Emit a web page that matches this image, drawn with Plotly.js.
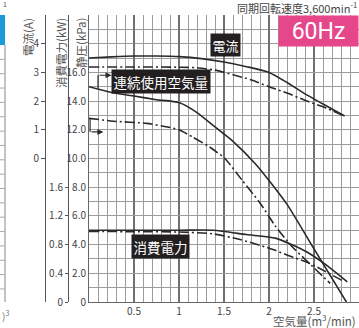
<!DOCTYPE html>
<html>
<head>
<meta charset="utf-8">
<script src="https://cdn.plot.ly/plotly-3.0.1.min.js"></script>
<style>
html,body{margin:0;padding:0;background:#fff;}
#chart{width:359px;height:328px;}
</style>
</head>
<body>
<div id="chart"></div>
<script>
// ---- data ----
// air volume (m3/min) vs current (A)
const currentSolidX = [0, 0.25, 0.5, 0.75, 1.0, 1.25, 1.5, 1.75, 2.0, 2.2, 2.4, 2.6, 2.84];
const currentSolidY = [3.5, 3.54, 3.57, 3.57, 3.55, 3.48, 3.36, 3.2, 3.0, 2.65, 2.25, 1.9, 1.48];
const currentDashX = [0, 0.5, 1.0, 1.2, 1.4, 1.6, 1.8, 2.0, 2.2, 2.4, 2.6, 2.84];
const currentDashY = [3.19, 3.19, 3.18, 3.16, 3.08, 2.92, 2.74, 2.5, 2.28, 2.03, 1.8, 1.48];
// air volume vs static pressure (kPa)
const pressSolidX = [0, 0.25, 0.5, 0.75, 1.0, 1.2, 1.4, 1.6, 1.86, 2.2, 2.5, 2.86];
const pressSolidY = [15.0, 14.6, 14.35, 14.1, 13.9, 13.2, 12.2, 11.2, 9.55, 6.8, 3.7, 0];
const pressDashX = [0, 0.27, 0.64, 0.87, 1.0, 1.15, 1.34, 1.51, 1.7, 1.9, 2.07, 2.25, 2.43, 2.68];
const pressDashY = [12.8, 12.6, 12.45, 12.2, 12.0, 11.5, 10.8, 10.0, 8.5, 6.9, 5.3, 3.9, 2.8, 1.3];
// air volume vs power consumption (kW)
const powerSolidX = [0, 0.5, 1.0, 1.38, 1.75, 2.07, 2.25, 2.43, 2.62, 2.87];
const powerSolidY = [1.0, 1.0, 1.0, 1.0, 0.94, 0.89, 0.8, 0.69, 0.53, 0.28];
const powerDashX = [0, 0.5, 1.0, 1.38, 1.68, 1.9, 2.07, 2.23, 2.43, 2.62, 2.84];
const powerDashY = [0.985, 0.98, 0.975, 0.95, 0.87, 0.79, 0.72, 0.64, 0.55, 0.43, 0.28];

// tick labels
const xTickVals = [0.5, 1, 1.5, 2, 2.5, 3];
const xTickText = ['0.5', '1', '1.5', '2', '2.5', '3'];
const kpaTickVals = [0, 2, 4, 6, 8, 10, 12, 14, 16];
const kpaTickText = ['0', '2.0', '4.0', '6.0', '8.0', '10.0', '12.0', '14.0', '16.0'];
const ampTickVals = [0, 1, 2, 3, 4];
const ampTickText = ['0', '1', '2', '3', '4'];
const kwTickVals = [0, 0.4, 0.8, 1.2, 1.6];
const kwTickText = ['0', '0.4', '0.8', '1.2', '1.6'];

// ---- layout helpers ----
const W = 359, H = 328, T = 15, B = 26;
const PH = H - T - B;
const px = v => v / W;                    // pixel x -> paper
const py = v => (H - B - v) / PH;         // pixel y -> paper

const lineColor = '#2a2a2a';
const dashPat = '10px,3px,2px,3px';
const FONT = '"Noto Sans CJK JP", "Noto Sans", sans-serif';

function tr(x, y, yaxis, dash, name) {
  return {x: x, y: y, yaxis: yaxis, type: 'scatter', mode: 'lines', name: name,
    line: {color: lineColor, width: 1.6, dash: dash, shape: 'spline', smoothing: 0.6},
    hoverinfo: 'skip', showlegend: false};
}

const data = [
  tr(pressSolidX, pressSolidY, 'y', 'solid', '静圧'),
  tr(pressDashX, pressDashY, 'y', dashPat, '静圧(鎖線)'),
  tr(currentSolidX, currentSolidY, 'y2', 'solid', '電流'),
  tr(currentDashX, currentDashY, 'y2', dashPat, '電流(鎖線)'),
  tr(powerSolidX, powerSolidY, 'y3', 'solid', '消費電力'),
  tr(powerDashX, powerDashY, 'y3', dashPat, '消費電力(鎖線)')
];

const tickFont = {family: FONT, size: 10, color: '#444'};

// left-edge remains of the neighbouring chart
const shapes = [
  {type: 'rect', xref: 'paper', yref: 'paper', x0: 0, x1: px(5), y0: py(45), y1: py(15),
   fillcolor: '#1a9ad9', line: {width: 0}},
  {type: 'line', xref: 'paper', yref: 'paper', x0: px(5), x1: px(5), y0: py(302), y1: py(45),
   line: {color: '#888', width: 1}}
];
for (let k = 1; k < 18; k++) {
  const yy = 45 + k * 14.35;
  if (yy > 302) break;
  shapes.push({type: 'line', xref: 'paper', yref: 'paper', x0: 0, x1: px(5), y0: py(yy), y1: py(yy),
    line: {color: '#aaa', width: 1}});
}
// bracket lines of the arrows
shapes.push({type: 'line', xref: 'x', yref: 'y', x0: 0.1, x1: 0.1, y0: 14.9, y1: 15.8,
  line: {color: lineColor, width: 1.2}});
shapes.push({type: 'line', xref: 'x', yref: 'y', x0: 0.012, x1: 0.012, y0: 12.8, y1: 11.85,
  line: {color: lineColor, width: 1.2}});

const boxLabel = (text, x, y, size) => ({
  text: text, x: x, y: y, xref: 'x', yref: 'y', showarrow: false,
  font: {family: FONT, size: size, color: '#fff'}, bgcolor: '#231f20', borderpad: 1.5
});
const vTitle = (text, xpix) => ({
  text: text, xref: 'paper', yref: 'paper', x: px(xpix), y: py(16), xanchor: 'center', yanchor: 'top',
  textangle: -90, showarrow: false, font: {family: FONT, size: 11.5, color: '#555'}
});

const annotations = [
  boxLabel('電流', 1.52, 17.9, 13),
  boxLabel('連続使用空気量', 0.8, 15.4, 13.5),
  boxLabel('消費電力', 0.79, 3.9, 13.5),
  {text: '', x: 0.25, y: 15.8, ax: 0.1, ay: 15.8, xref: 'x', yref: 'y', axref: 'x', ayref: 'y',
   showarrow: true, arrowhead: 2, arrowsize: 1, arrowwidth: 1.2, arrowcolor: lineColor},
  {text: '', x: 0.16, y: 11.85, ax: 0.012, ay: 11.85, xref: 'x', yref: 'y', axref: 'x', ayref: 'y',
   showarrow: true, arrowhead: 2, arrowsize: 1, arrowwidth: 1.2, arrowcolor: lineColor},
  vTitle('電流(A)', 28),
  vTitle('消費電力(kW)', 61),
  vTitle('静圧(kPa)', 81),
  {text: '同期回転速度3,600min<sup>-1</sup>', xref: 'paper', yref: 'paper', x: 1, y: py(8),
   xanchor: 'right', yanchor: 'middle', showarrow: false, font: {family: FONT, size: 11, color: '#444'}},
  {text: '60Hz', xref: 'paper', yref: 'paper', x: 1, y: 1, xanchor: 'right', yanchor: 'top',
   width: 79, height: 30, bgcolor: '#e6478a', borderpad: 0, showarrow: false,
   font: {family: 'Roboto, "Noto Sans", sans-serif', size: 23, color: '#fff'}},
  {text: '空気量(m<sup>3</sup>/min)', xref: 'paper', yref: 'paper', x: px(358), y: py(321),
   xanchor: 'right', yanchor: 'middle', showarrow: false, font: {family: FONT, size: 11.5, color: '#555'}},
  {text: '1', xref: 'paper', yref: 'paper', x: px(1), y: py(4), xanchor: 'left', yanchor: 'middle',
   showarrow: false, font: {family: FONT, size: 7, color: '#555'}},
  {text: ')<sup>3</sup>', xref: 'paper', yref: 'paper', x: 0, y: py(315), xanchor: 'left', yanchor: 'middle',
   showarrow: false, font: {family: FONT, size: 10, color: '#777'}}
];

const layout = {
  width: W, height: H,
  margin: {l: 0, r: 0, t: T, b: B, pad: 0},
  paper_bgcolor: '#fff', plot_bgcolor: '#fff',
  showlegend: false,
  font: {family: FONT},
  xaxis: {
    domain: [px(89), 1], range: [0, 3], tickmode: 'array', tickvals: xTickVals, ticktext: xTickText,
    showgrid: true, gridcolor: '#707070', gridwidth: 1.6, zeroline: false,
    showline: true, linecolor: '#666', linewidth: 1, ticks: '', tickfont: tickFont,
    minor: {dtick: 0.1, tick0: 0, showgrid: true, gridcolor: '#9c9c9c', gridwidth: 1, ticks: ''},
    fixedrange: true
  },
  yaxis: {
    range: [0, 20], tickmode: 'array', tickvals: kpaTickVals, ticktext: kpaTickText,
    showgrid: true, gridcolor: '#9c9c9c', gridwidth: 1, zeroline: false,
    showline: true, linecolor: '#666', linewidth: 1, ticks: '', tickfont: tickFont,
    minor: {dtick: 1, tick0: 0, showgrid: true, gridcolor: '#9c9c9c', gridwidth: 1, ticks: ''},
    fixedrange: true
  },
  yaxis2: {
    overlaying: 'y', anchor: 'free', position: px(45), side: 'left',
    range: [-5, 5], tickmode: 'array', tickvals: ampTickVals, ticktext: ampTickText,
    showgrid: false, zeroline: false, showline: true, linecolor: '#555', linewidth: 1,
    ticks: 'outside', ticklen: 4, tickcolor: '#555', tickfont: tickFont, fixedrange: true
  },
  yaxis3: {
    overlaying: 'y', anchor: 'free', position: px(68), side: 'left',
    range: [0, 4], tickmode: 'array', tickvals: kwTickVals, ticktext: kwTickText,
    showgrid: false, zeroline: false, showline: true, linecolor: '#555', linewidth: 1,
    ticks: 'outside', ticklen: 3, tickcolor: '#555', tickfont: tickFont, fixedrange: true
  },
  shapes: shapes,
  annotations: annotations
};

Plotly.newPlot('chart', data, layout, {displayModeBar: false, staticPlot: true});
</script>
</body>
</html>
